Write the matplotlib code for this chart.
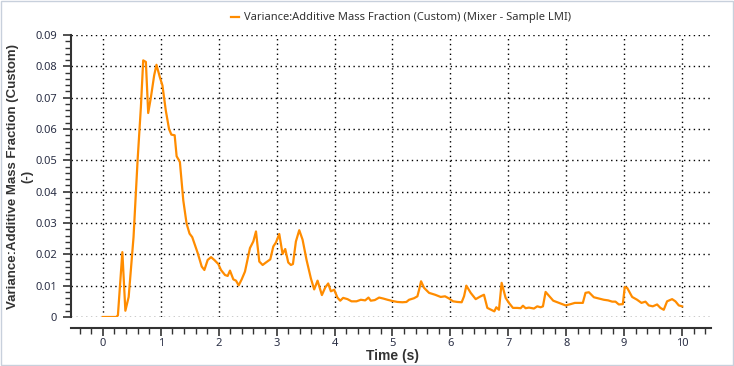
import numpy as np
import matplotlib.pyplot as plt
from matplotlib.ticker import MultipleLocator
from matplotlib.patches import Rectangle

plt.rcParams['font.family'] = ['Noto Sans', 'DejaVu Sans']

# time (s) and variance values
time = [0.0, 0.23, 0.26, 0.337, 0.389, 0.446, 0.53, 0.6, 0.657, 0.697, 0.743, 0.783,
        0.829, 0.886, 0.926, 0.983, 1.029, 1.086, 1.143, 1.183, 1.24, 1.274, 1.33,
        1.389, 1.446, 1.497, 1.543, 1.638, 1.707, 1.753, 1.81, 1.868, 1.925, 1.994,
        2.04, 2.109, 2.155, 2.195, 2.253, 2.299, 2.345, 2.397, 2.454, 2.54, 2.598,
        2.644, 2.701, 2.759, 2.816, 2.891, 2.943, 2.989, 3.046, 3.103, 3.149, 3.201,
        3.247, 3.282, 3.333, 3.391, 3.448, 3.517, 3.592, 3.649, 3.707, 3.782, 3.839,
        3.891, 3.937, 3.994, 4.05, 4.098, 4.149, 4.224, 4.293, 4.379, 4.454, 4.529,
        4.586, 4.626, 4.695, 4.77, 4.839, 4.914, 5.0, 5.086, 5.172, 5.241, 5.287,
        5.374, 5.431, 5.46, 5.494, 5.546, 5.632, 5.736, 5.833, 5.908, 5.977, 6.046,
        6.121, 6.195, 6.236, 6.276, 6.351, 6.437, 6.523, 6.58, 6.638, 6.724, 6.759,
        6.793, 6.839, 6.885, 6.954, 7.011, 7.08, 7.155, 7.213, 7.253, 7.299, 7.356,
        7.443, 7.5, 7.557, 7.598, 7.644, 7.701, 7.776, 7.874, 7.989, 8.075, 8.149,
        8.218, 8.287, 8.333, 8.391, 8.477, 8.563, 8.649, 8.724, 8.793, 8.851, 8.908,
        8.977, 9.011, 9.052, 9.138, 9.224, 9.299, 9.368, 9.425, 9.494, 9.569, 9.626,
        9.684, 9.741, 9.828, 9.885, 9.943, 10.0]
variance = [0.0, 0.0, 0.0005, 0.0207, 0.002, 0.0064, 0.0255, 0.05, 0.067, 0.0819,
            0.0814, 0.0651, 0.070, 0.0771, 0.0805, 0.0766, 0.0739, 0.066, 0.060,
            0.0582, 0.058, 0.0513, 0.0495, 0.0372, 0.0298, 0.0266, 0.0255, 0.0204,
            0.0161, 0.015, 0.0182, 0.0191, 0.0182, 0.0169, 0.015, 0.0134, 0.0131,
            0.0148, 0.012, 0.0116, 0.0101, 0.012, 0.0145, 0.022, 0.0241, 0.0273,
            0.0177, 0.0166, 0.0174, 0.0184, 0.0225, 0.0238, 0.0265, 0.0201, 0.0217,
            0.0174, 0.0166, 0.0169, 0.0241, 0.0277, 0.0247, 0.0182, 0.0123, 0.0088,
            0.0116, 0.007, 0.0094, 0.0107, 0.0082, 0.0087, 0.0062, 0.0052, 0.0061,
            0.0057, 0.005, 0.005, 0.0055, 0.0053, 0.0062, 0.0052, 0.0054, 0.0062,
            0.0059, 0.0055, 0.0051, 0.0048, 0.0047, 0.0048, 0.0055, 0.006, 0.0066,
            0.0087, 0.0114, 0.0093, 0.0077, 0.0071, 0.0064, 0.0066, 0.0059, 0.005,
            0.0048, 0.0047, 0.0066, 0.010, 0.0077, 0.0057, 0.0066, 0.0071, 0.0029,
            0.0021, 0.0018, 0.0031, 0.0023, 0.0109, 0.0061, 0.0045, 0.0029, 0.0029,
            0.0028, 0.0036, 0.0028, 0.003, 0.0027, 0.0034, 0.0031, 0.0034, 0.008,
            0.0068, 0.0052, 0.0045, 0.0037, 0.0041, 0.0045, 0.0045, 0.0045, 0.0077,
            0.0079, 0.0063, 0.0059, 0.0055, 0.0053, 0.0049, 0.0049, 0.004, 0.0041,
            0.0096, 0.0093, 0.0064, 0.0055, 0.0045, 0.0049, 0.0037, 0.0034, 0.004,
            0.0029, 0.0023, 0.005, 0.0057, 0.005, 0.0037, 0.0034]

series_label = "Variance:Additive Mass Fraction (Custom) (Mixer - Sample LMI)"
xlabel = "Time (s)"
ylabel = "Variance:Additive Mass Fraction (Custom)\n(-)"

fig = plt.figure(figsize=(7.34, 3.66), dpi=100)
ax = fig.add_axes([0.0967, 0.1339, 0.872, 0.7705])

line, = ax.plot(time, variance, color="#ff8c00", lw=1.6, label=series_label)

ax.set_xlim(-0.55, 10.5)
ax.set_ylim(0, 0.09)
ax.xaxis.set_major_locator(MultipleLocator(1))
ax.xaxis.set_minor_locator(MultipleLocator(0.2))
ax.yaxis.set_major_locator(MultipleLocator(0.01))
ax.yaxis.set_minor_locator(MultipleLocator(0.002))
ax.set_xticks(np.arange(0, 11, 1))
ax.set_xticklabels([str(i) for i in range(11)])
ax.set_yticks(np.arange(0, 0.0901, 0.01))
ax.set_yticklabels(["0"] + ["%.2f" % v for v in np.arange(0.01, 0.0901, 0.01)])

ax.grid(True, which="major", color="black", linestyle=(0, (1, 2.5)), lw=1.0)
for s in ["top", "right"]:
    ax.spines[s].set_visible(False)
ax.spines["bottom"].set_position(("outward", 8))
for s in ["left", "bottom"]:
    ax.spines[s].set_color("#333333")
    ax.spines[s].set_linewidth(1.5)
ax.tick_params(which="major", length=6, width=1.2, color="#333333", labelsize=8, labelcolor="#2a2f45")
ax.tick_params(which="minor", length=4, width=1.0, color="#333333")
ax.tick_params(axis="x", pad=1)
ax.tick_params(axis="y", pad=4)

label_font = ["Liberation Sans", "DejaVu Sans"]
fig.text(0.535, 0.027, xlabel, ha="center", va="center", fontsize=10,
         fontweight="bold", color="#333333", family=label_font)
fig.text(0.027, 0.519, ylabel, ha="center", va="center", rotation=90, fontsize=9.5,
         fontweight="bold", color="#333333", family=label_font, linespacing=1.25)

fig.legend(handles=[line], loc="center", bbox_to_anchor=(0.546, 0.951), frameon=False,
           fontsize=8, handlelength=0.8, handletextpad=0.4, labelcolor="#333333")

fig.patches.append(Rectangle((0.001, 0.002), 0.997, 0.996, transform=fig.transFigure,
                             fill=False, edgecolor="#c8d0dc", lw=1))

fig.savefig("out.png", dpi=100)
